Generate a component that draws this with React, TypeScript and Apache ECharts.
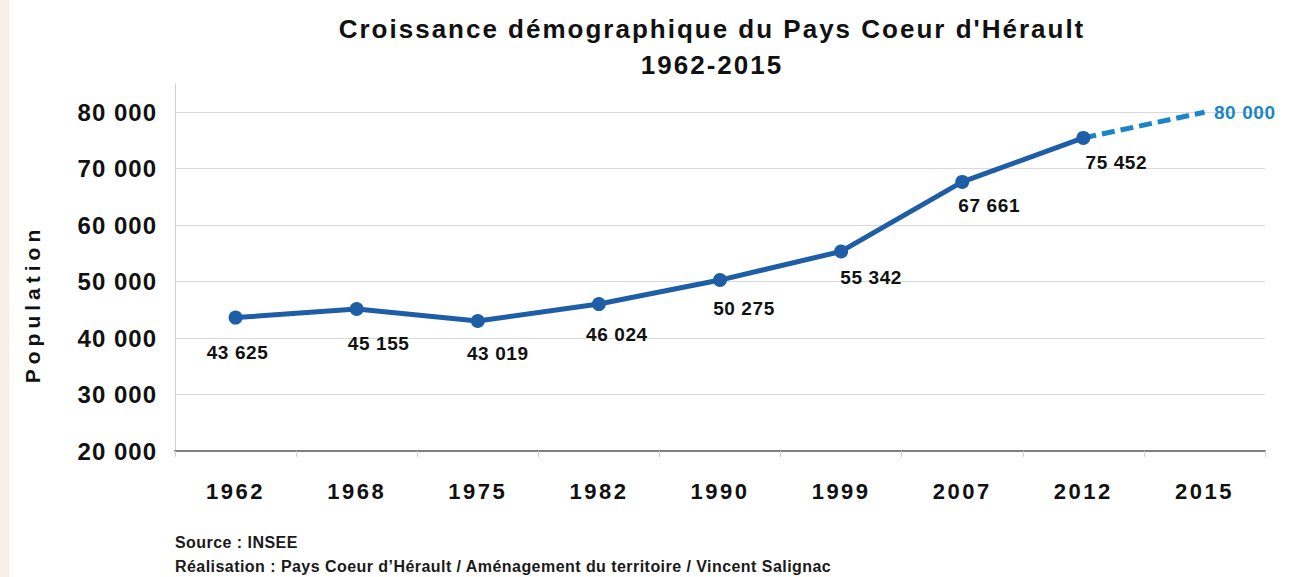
import React, { useEffect, useRef } from "react";
import * as echarts from "echarts";

const years = ["1962", "1968", "1975", "1982", "1990", "1999", "2007", "2012", "2015"];
const population = [43625, 45155, 43019, 46024, 50275, 55342, 67661, 75452, null];
const projection = [null, null, null, null, null, null, null, 75452, 80000];
const yMin = 20000;
const yMax = 85000;
const yStep = 10000;
// label nudges (dx, dy) per census point, styling only
const labelNudge = [[2, 0], [22, 0], [20, -2], [18, -4], [24, -6], [30, -8], [27, -11], [33, -10]];

const fmt = (v: number) => String(v).replace(/\B(?=(\d{3})+(?!\d))/g, " ");

const FONT = "'Liberation Sans', Arial, sans-serif";
const DARK = "#1d5ea6";
const LIGHT = "#1a86c8";

export default function App() {
  const ref = useRef<HTMLDivElement>(null);
  useEffect(() => {
    if (!ref.current) return;
    const chart = echarts.init(ref.current, undefined, { renderer: "svg" });
    const mainData = population.map((v, i) =>
      v == null
        ? null
        : {
            value: v,
            label: { offset: labelNudge[i] },
          }
    );
    const projData = projection.map((v, i) =>
      v == null
        ? null
        : i === projection.length - 1
        ? {
            value: v,
            label: {
              show: true,
              position: "right",
              distance: 9,
              color: LIGHT,
              fontSize: 19,
              fontWeight: "bold",
              fontFamily: FONT,
              formatter: (p: any) => fmt(p.value),
            },
          }
        : { value: v }
    );
    chart.setOption({
      animation: false,
      backgroundColor: "#ffffff",
      title: {
        text: "Croissance démographique du Pays Coeur d'Hérault\n1962-2015",
        left: 707,
        top: 6,
        textAlign: "center",
        textStyle: {
          fontFamily: FONT,
          fontSize: 26,
          fontWeight: "bold",
          color: "#111",
          lineHeight: 36,
        },
      },
      grid: { left: 175, right: 25, top: 84, bottom: 126 },
      xAxis: {
        type: "category",
        data: years,
        boundaryGap: true,
        axisLine: { lineStyle: { color: "#7f7f7f", width: 2 } },
        axisTick: { show: true, length: 6, lineStyle: { color: "#cfcfcf" } },
        axisLabel: {
          margin: 29,
          fontFamily: FONT,
          fontSize: 22,
          fontWeight: "bold",
          color: "#111",
        },
      },
      yAxis: {
        type: "value",
        min: yMin,
        max: yMax,
        interval: yStep,
        axisLine: { show: true, lineStyle: { color: "#d0d0d0", width: 1 } },
        axisTick: { show: false },
        splitLine: {
          lineStyle: {
            color: ["#d9d9d9", "#d9d9d9", "#d9d9d9", "#d9d9d9", "#d9d9d9", "#d9d9d9", "#d9d9d9", "rgba(0,0,0,0)"],
            width: 1,
          },
        },
        axisLabel: {
          margin: 18,
          showMaxLabel: false,
          fontFamily: FONT,
          fontSize: 24,
          fontWeight: "bold",
          color: "#111",
          formatter: (v: number) => (v > 80000 ? "" : fmt(v)),
        },
      },
      series: [
        {
          type: "line",
          data: projData,
          symbol: "circle",
          symbolSize: 1,
          showSymbol: true,
          lineStyle: { color: LIGHT, width: 5, type: [13, 6] },
          itemStyle: { color: LIGHT },
          z: 1,
        },
        {
          type: "line",
          data: mainData,
          symbol: "circle",
          symbolSize: 14,
          lineStyle: { color: DARK, width: 5 },
          itemStyle: { color: DARK },
          z: 2,
          label: {
            show: true,
            position: "bottom",
            distance: 18,
            fontFamily: FONT,
            fontSize: 19,
            fontWeight: "bold",
            color: "#111",
            formatter: (p: any) => fmt(p.value),
          },
        },
      ],
      graphic: [
        { type: "rect", left: 0, top: 0, shape: { width: 9, height: 577 }, style: { fill: "#f8eee7" }, silent: true },
        {
          type: "text",
          x: 32,
          y: 304,
          rotation: Math.PI / 2,
          style: {
            text: "Population",
            font: `bold 21px ${FONT}`,
            fill: "#111",
            align: "center",
            verticalAlign: "middle",
          },
        },
        {
          type: "text",
          left: 175,
          top: 534,
          style: { text: "Source : INSEE", font: `bold 16px ${FONT}`, fill: "#1a1a1a" },
        },
        {
          type: "text",
          left: 175,
          top: 558,
          style: {
            text: "Réalisation : Pays Coeur d’Hérault / Aménagement du territoire / Vincent Salignac",
            font: `bold 16px ${FONT}`,
            fill: "#1a1a1a",
          },
        },
      ],
    });
    return () => chart.dispose();
  }, []);
  return (
    <>
      <style>{`
        body { margin: 0; }
        svg text[style*="26px"] { letter-spacing: 2px; }
        svg text[style*="24px"] { letter-spacing: 1px; }
        svg text[style*="22px"] { letter-spacing: 2.5px; }
        svg text[style*="21px"] { letter-spacing: 5px; }
        svg text[style*="19px"] { letter-spacing: 0.6px; }
        svg text[style*="16px"] { letter-spacing: 0.45px; }
      `}</style>
      <div ref={ref} style={{ position: "fixed", left: 0, top: 0, width: 1290, height: 577 }} />
    </>
  );
}
